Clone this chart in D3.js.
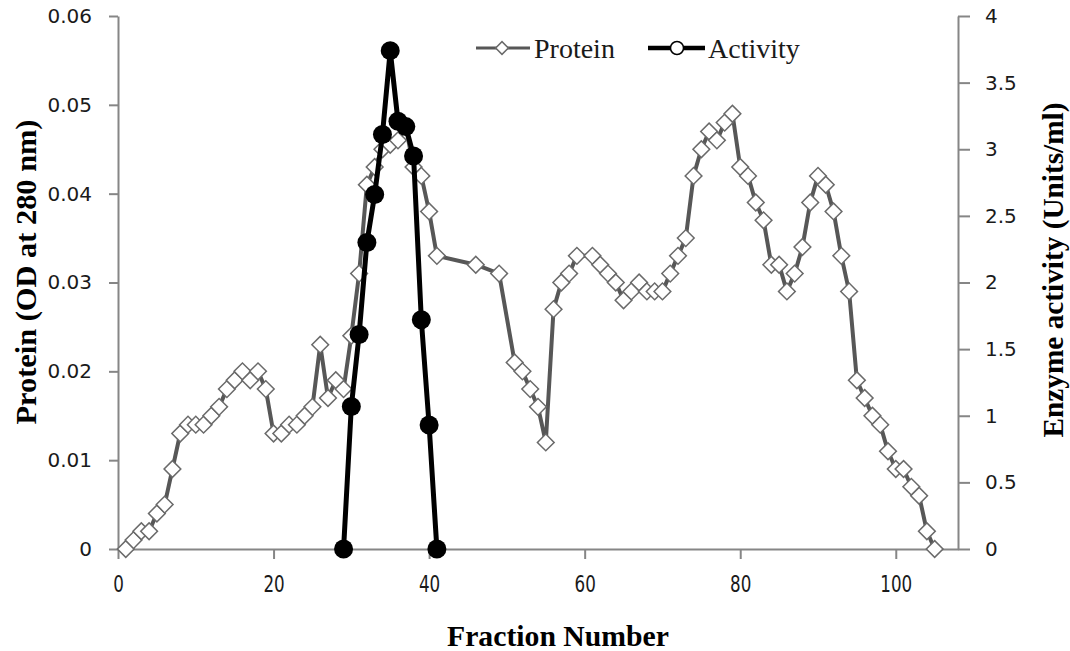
<!DOCTYPE html>
<html>
<head>
<meta charset="utf-8">
<script src="https://cdn.jsdelivr.net/npm/d3@7"></script>
<style>
    body { margin: 0; background: #fff; }
    svg { display: block; }
</style>
</head>
<body>
<svg id="chart"></svg>
<script>
// protein (OD at 280 nm) per fraction
const proteinFraction = [1, 2, 3, 4, 5, 6, 7, 8, 9, 10, 11, 12, 13, 14, 15, 16, 17, 18, 19, 20,
    21, 22, 23, 24, 25, 26, 27, 28, 29, 30, 31, 32, 33, 34, 35, 36, 37, 38, 39, 40, 41, 46, 49,
    51, 52, 53, 54, 55, 56, 57, 58, 59, 61, 62, 63, 64, 65, 66, 67, 68, 69, 70, 71, 72, 73, 74,
    75, 76, 77, 78, 79, 80, 81, 82, 83, 84, 85, 86, 87, 88, 89, 90, 91, 92, 93, 94, 95, 96, 97,
    98, 99, 100, 101, 102, 103, 104, 105];
const proteinOD = [0, 0.001, 0.002, 0.002, 0.004, 0.005, 0.009, 0.013, 0.014, 0.014, 0.014, 0.015,
    0.016, 0.018, 0.019, 0.020, 0.019, 0.020, 0.018, 0.013, 0.013, 0.014, 0.014, 0.015, 0.016,
    0.023, 0.017, 0.019, 0.018, 0.024, 0.031, 0.041, 0.043, 0.045, 0.0455, 0.046, 0.0475, 0.043,
    0.042, 0.038, 0.033, 0.032, 0.031, 0.021, 0.020, 0.018, 0.016, 0.012, 0.027, 0.030, 0.031,
    0.033, 0.033, 0.032, 0.031, 0.030, 0.028, 0.029, 0.030, 0.029, 0.029, 0.029, 0.031, 0.033,
    0.035, 0.042, 0.045, 0.047, 0.046, 0.048, 0.049, 0.043, 0.042, 0.039, 0.037, 0.032, 0.032,
    0.029, 0.031, 0.034, 0.039, 0.042, 0.041, 0.038, 0.033, 0.029, 0.019, 0.017, 0.015, 0.014,
    0.011, 0.009, 0.009, 0.007, 0.006, 0.002, 0];

// enzyme activity (Units/ml)
const activityFraction = [29, 30, 31, 32, 33, 34, 35, 36, 37, 38, 39, 40, 41];
const activityUnits = [0, 1.07, 1.61, 2.30, 2.66, 3.11, 3.74, 3.21, 3.17, 2.95, 1.72, 0.93, 0];

const xTicks = [0, 20, 40, 60, 80, 100];
const leftTicks = [0, 0.01, 0.02, 0.03, 0.04, 0.05, 0.06];
const rightTicks = [0, 0.5, 1, 1.5, 2, 2.5, 3, 3.5, 4];

const width = 1070, height = 651;
const plotLeft = 118, plotRight = 958, plotTop = 16, plotBottom = 549;
const axisGrey = "#868686";
const serif = "'Liberation Serif', 'Times New Roman', serif";
const sans = "'DejaVu Sans', Verdana, sans-serif";

const svg = d3.select("#chart").attr("width", width).attr("height", height);

const xScale = d3.scaleLinear().domain([0, 108]).range([plotLeft, plotRight]);
const yLeft = d3.scaleLinear().domain([0, 0.06]).range([plotBottom, plotTop]);
const yRight = d3.scaleLinear().domain([0, 4]).range([plotBottom, plotTop]);

// axes
const xAxis = svg.append("g")
    .attr("transform", `translate(0,${plotBottom})`)
    .call(d3.axisBottom(xScale).tickValues(xTicks).tickFormat(d3.format("d"))
        .tickSize(10).tickSizeOuter(0).tickPadding(11));

const leftAxis = svg.append("g")
    .attr("transform", `translate(${plotLeft},0)`)
    .call(d3.axisLeft(yLeft).tickValues(leftTicks).tickFormat(d => d === 0 ? "0" : d3.format(".2f")(d))
        .tickSize(9).tickSizeOuter(0).tickPadding(17));

const rightAxis = svg.append("g")
    .attr("transform", `translate(${plotRight},0)`)
    .call(d3.axisRight(yRight).tickValues(rightTicks).tickFormat(d => String(d))
        .tickSize(12).tickSizeOuter(0).tickPadding(15));

[xAxis, leftAxis, rightAxis].forEach(g => {
    g.select(".domain").attr("stroke", axisGrey).attr("stroke-width", 2);
    g.selectAll(".tick line").attr("stroke", axisGrey).attr("stroke-width", 2);
    g.selectAll(".tick text").attr("fill", "#1a1a1a")
        .attr("font-family", sans).attr("font-size", 20);
});
// x labels look narrow and tall in the original
xAxis.selectAll(".tick text").attr("font-size", 19).attr("transform", "scale(0.88,1.25)");

// axis titles
svg.append("text")
    .attr("x", 558).attr("y", 646)
    .attr("text-anchor", "middle")
    .attr("font-family", serif).attr("font-weight", "bold").attr("font-size", 29)
    .attr("textLength", 222).attr("lengthAdjust", "spacingAndGlyphs")
    .text("Fraction Number");

svg.append("text")
    .attr("transform", "translate(36,272) rotate(-90)")
    .attr("text-anchor", "middle")
    .attr("font-family", serif).attr("font-weight", "bold").attr("font-size", 29)
    .attr("textLength", 305).attr("lengthAdjust", "spacingAndGlyphs")
    .text("Protein (OD at 280 nm)");

svg.append("text")
    .attr("transform", "translate(1063,270) rotate(-90)")
    .attr("text-anchor", "middle")
    .attr("font-family", serif).attr("font-weight", "bold").attr("font-size", 29)
    .attr("textLength", 335).attr("lengthAdjust", "spacingAndGlyphs")
    .text("Enzyme activity (Units/ml)");

// protein series
const protein = proteinFraction.map((f, i) => ({x: f, y: proteinOD[i]}));
const activity = activityFraction.map((f, i) => ({x: f, y: activityUnits[i]}));

svg.append("path")
    .datum(protein)
    .attr("fill", "none")
    .attr("stroke", "#575757")
    .attr("stroke-width", 4)
    .attr("stroke-linejoin", "round")
    .attr("d", d3.line().x(d => xScale(d.x)).y(d => yLeft(d.y)));

const diamond = d3.symbol().type(d3.symbolSquare).size(140);

svg.append("g")
    .selectAll("path")
    .data(protein).enter()
    .append("path")
    .attr("d", diamond)
    .attr("transform", d => `translate(${xScale(d.x)},${yLeft(d.y)}) rotate(45)`)
    .attr("fill", "#fff")
    .attr("stroke", "#6a6a6a")
    .attr("stroke-width", 1.5);

// activity series
svg.append("path")
    .datum(activity)
    .attr("fill", "none")
    .attr("stroke", "#000")
    .attr("stroke-width", 5)
    .attr("stroke-linejoin", "miter")
    .attr("d", d3.line().x(d => xScale(d.x)).y(d => yRight(d.y)));

svg.append("g")
    .selectAll("circle")
    .data(activity).enter()
    .append("circle")
    .attr("cx", d => xScale(d.x))
    .attr("cy", d => yRight(d.y))
    .attr("r", 9.5)
    .attr("fill", "#000");

// legend
const legend = svg.append("g").attr("transform", "translate(0,48)");

legend.append("line")
    .attr("x1", 476).attr("x2", 530).attr("y1", 0).attr("y2", 0)
    .attr("stroke", "#575757").attr("stroke-width", 3);
legend.append("path")
    .attr("d", d3.symbol().type(d3.symbolSquare).size(80))
    .attr("transform", "translate(502,0) rotate(45)")
    .attr("fill", "#fff").attr("stroke", "#6a6a6a").attr("stroke-width", 1.5);
legend.append("text")
    .attr("x", 534).attr("y", 10)
    .attr("font-family", serif).attr("font-size", 28)
    .attr("fill", "#1a1a1a")
    .text("Protein");

legend.append("line")
    .attr("x1", 648).attr("x2", 705).attr("y1", 0).attr("y2", 0)
    .attr("stroke", "#000").attr("stroke-width", 4.5);
legend.append("circle")
    .attr("cx", 677).attr("cy", 0).attr("r", 6.5)
    .attr("fill", "#fff").attr("stroke", "#000").attr("stroke-width", 1.5);
legend.append("text")
    .attr("x", 708).attr("y", 10)
    .attr("font-family", serif).attr("font-size", 28)
    .attr("fill", "#1a1a1a")
    .text("Activity");
</script>
</body>
</html>
